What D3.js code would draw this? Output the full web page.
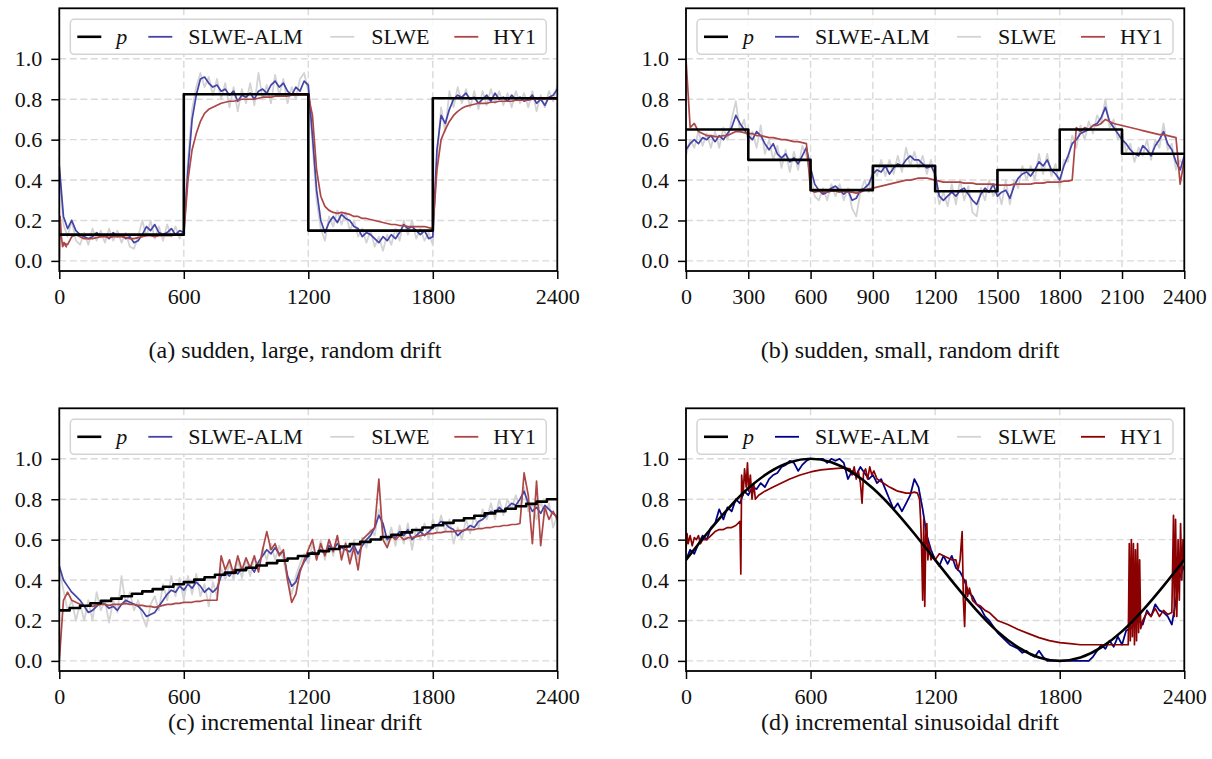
<!DOCTYPE html>
<html>
<head>
<meta charset="utf-8">
<script src="https://cdn.jsdelivr.net/npm/d3@7"></script>
<style>
  body { margin: 0; background: #fff; }
  svg { display: block; }
</style>
</head>
<body>
<svg id="fig" width="1212" height="759"></svg>
<script>
// Estimates sampled every STEP time steps (t = 0 .. 2400)
const STEP = 20;

// ---------- (a) sudden, large, random drift ----------
const pA_times  = [0, 600, 1200, 1800, 2400];
const pA_levels = [0.13, 0.825, 0.15, 0.805, 0.805];
const almA = [
  0.47,0.22,0.16,0.20,0.15,0.13,0.12,0.11,0.12,0.14,
  0.12,0.13,0.11,0.14,0.12,0.13,0.11,0.12,0.09,0.10,
  0.13,0.17,0.15,0.18,0.14,0.13,0.14,0.16,0.13,0.15,
  0.14,0.45,0.70,0.82,0.90,0.91,0.88,0.86,0.87,0.84,
  0.85,0.82,0.84,0.79,0.82,0.81,0.83,0.80,0.84,0.85,
  0.83,0.87,0.89,0.86,0.88,0.84,0.82,0.86,0.84,0.89,
  0.87,0.62,0.35,0.20,0.14,0.19,0.22,0.19,0.23,0.21,
  0.20,0.17,0.16,0.12,0.14,0.13,0.11,0.09,0.12,0.10,
  0.13,0.11,0.14,0.18,0.16,0.17,0.15,0.13,0.15,0.11,
  0.12,0.55,0.72,0.68,0.75,0.80,0.82,0.81,0.83,0.80,
  0.81,0.78,0.80,0.82,0.79,0.83,0.80,0.81,0.79,0.82,
  0.80,0.81,0.79,0.80,0.82,0.78,0.80,0.77,0.81,0.82,
  0.85];
const slweA = [
  0.45,0.18,0.12,0.20,0.10,0.08,0.14,0.08,0.16,0.10,
  0.15,0.09,0.16,0.10,0.15,0.09,0.14,0.07,0.06,0.12,
  0.20,0.12,0.20,0.11,0.17,0.10,0.18,0.12,0.17,0.11,
  0.16,0.50,0.75,0.86,0.93,0.86,0.91,0.82,0.90,0.80,
  0.88,0.76,0.86,0.74,0.85,0.78,0.88,0.77,0.93,0.80,
  0.87,0.78,0.92,0.82,0.90,0.78,0.86,0.80,0.90,0.93,
  0.84,0.58,0.30,0.16,0.10,0.22,0.17,0.25,0.18,0.24,
  0.15,0.20,0.12,0.16,0.09,0.15,0.07,0.12,0.05,0.13,
  0.08,0.16,0.10,0.20,0.13,0.20,0.11,0.16,0.10,0.14,
  0.08,0.50,0.76,0.64,0.84,0.76,0.86,0.78,0.85,0.76,
  0.84,0.75,0.84,0.77,0.85,0.78,0.84,0.77,0.83,0.76,
  0.84,0.78,0.83,0.76,0.84,0.74,0.82,0.76,0.84,0.79,
  0.87];
// HY1 in (a) starts with a short transient, then sampled every 20 steps
const hy1A_start = [[0,0.00],[4,0.22],[10,0.12],[16,0.07],[24,0.09],[34,0.07]];
const hy1A = [
  0.09,0.08,0.12,0.13,0.12,0.11,0.11,0.11,0.115,
  0.12,0.12,0.115,0.12,0.12,0.12,0.115,0.11,0.11,0.115,
  0.12,0.125,0.125,0.12,0.125,0.125,0.125,0.125,0.13,0.13,
  0.13,0.40,0.55,0.63,0.69,0.73,0.75,0.76,0.77,0.78,
  0.785,0.79,0.79,0.795,0.80,0.80,0.80,0.80,0.805,0.81,
  0.81,0.81,0.815,0.815,0.815,0.815,0.82,0.82,0.82,0.82,
  0.82,0.72,0.45,0.32,0.27,0.25,0.24,0.235,0.24,0.235,
  0.23,0.22,0.22,0.21,0.21,0.205,0.20,0.195,0.19,0.185,
  0.18,0.18,0.175,0.175,0.17,0.17,0.17,0.17,0.17,0.165,
  0.16,0.45,0.60,0.65,0.69,0.72,0.74,0.755,0.765,0.77,
  0.775,0.78,0.78,0.78,0.785,0.785,0.79,0.79,0.79,0.79,
  0.795,0.795,0.795,0.795,0.80,0.80,0.80,0.80,0.80,0.80,
  0.80];

// ---------- (b) sudden, small, random drift ----------
const pB_times  = [0, 300, 600, 900, 1200, 1500, 1800, 2100, 2400];
const pB_levels = [0.65, 0.50, 0.35, 0.47, 0.345, 0.45, 0.65, 0.53, 0.53];
const almB = [
  0.55,0.58,0.60,0.58,0.61,0.60,0.62,0.59,0.62,0.60,
  0.63,0.66,0.72,0.68,0.65,0.62,0.60,0.64,0.62,0.58,
  0.55,0.58,0.53,0.51,0.53,0.49,0.51,0.48,0.52,0.56,
  0.46,0.38,0.35,0.33,0.34,0.36,0.37,0.35,0.33,0.35,
  0.30,0.31,0.35,0.36,0.38,0.43,0.45,0.44,0.47,0.43,
  0.46,0.48,0.47,0.50,0.52,0.50,0.50,0.48,0.46,0.47,
  0.43,0.32,0.30,0.32,0.34,0.32,0.35,0.36,0.33,0.30,
  0.28,0.33,0.36,0.34,0.38,0.32,0.34,0.35,0.31,0.37,
  0.41,0.43,0.44,0.42,0.45,0.49,0.47,0.50,0.45,0.43,
  0.40,0.47,0.52,0.58,0.60,0.63,0.64,0.65,0.67,0.68,
  0.71,0.76,0.69,0.66,0.63,0.60,0.58,0.55,0.53,0.52,
  0.57,0.55,0.52,0.57,0.60,0.64,0.58,0.55,0.49,0.45,
  0.52];
const slweB = [
  0.52,0.60,0.56,0.64,0.57,0.63,0.56,0.64,0.56,0.66,
  0.60,0.70,0.79,0.64,0.70,0.58,0.64,0.56,0.67,0.53,
  0.60,0.50,0.57,0.46,0.55,0.44,0.54,0.45,0.57,0.52,
  0.42,0.32,0.30,0.36,0.30,0.38,0.32,0.38,0.30,0.36,
  0.26,0.22,0.34,0.40,0.34,0.47,0.42,0.50,0.42,0.50,
  0.43,0.52,0.44,0.56,0.47,0.54,0.46,0.52,0.43,0.50,
  0.40,0.28,0.34,0.27,0.38,0.28,0.40,0.30,0.37,0.24,
  0.22,0.36,0.30,0.40,0.32,0.36,0.28,0.40,0.28,0.40,
  0.36,0.47,0.40,0.47,0.40,0.53,0.43,0.53,0.42,0.48,
  0.36,0.50,0.49,0.62,0.56,0.67,0.60,0.69,0.63,0.72,
  0.68,0.80,0.66,0.70,0.60,0.64,0.54,0.58,0.49,0.56,
  0.52,0.60,0.50,0.60,0.56,0.68,0.55,0.58,0.45,0.50,
  0.46];
const hy1B = [
  1.00,0.66,0.68,0.64,0.63,0.62,0.62,0.615,0.615,0.62,
  0.62,0.63,0.64,0.64,0.635,0.63,0.63,0.62,0.62,0.615,
  0.61,0.61,0.605,0.60,0.60,0.595,0.59,0.59,0.585,0.58,
  0.35,0.34,0.345,0.34,0.34,0.345,0.345,0.34,0.345,0.34,
  0.34,0.335,0.34,0.35,0.355,0.36,0.365,0.37,0.375,0.38,
  0.385,0.39,0.395,0.40,0.40,0.405,0.41,0.41,0.41,0.405,
  0.40,0.395,0.39,0.39,0.39,0.39,0.39,0.385,0.385,0.385,
  0.38,0.38,0.38,0.38,0.38,0.375,0.375,0.375,0.375,0.38,
  0.38,0.38,0.38,0.38,0.385,0.385,0.385,0.39,0.39,0.39,
  0.39,0.395,0.395,0.40,0.66,0.64,0.66,0.65,0.67,0.67,
  0.68,0.70,0.69,0.68,0.675,0.67,0.665,0.66,0.655,0.65,
  0.645,0.64,0.635,0.63,0.625,0.625,0.62,0.615,0.61,0.38,
  0.50];

// ---------- (c) incremental linear drift ----------
const pC_stepLen = 50;
const pC_levels = [
  0.250,0.262,0.273,0.285,0.297,0.308,0.320,0.332,0.344,0.355,
  0.367,0.379,0.390,0.402,0.414,0.426,0.437,0.449,0.461,0.472,
  0.484,0.496,0.507,0.519,0.531,0.543,0.554,0.566,0.578,0.589,
  0.601,0.613,0.624,0.636,0.648,0.660,0.671,0.683,0.695,0.706,
  0.718,0.730,0.741,0.753,0.765,0.777,0.788,0.800];
const almC = [
  0.47,0.40,0.37,0.34,0.32,0.30,0.27,0.24,0.25,0.27,
  0.29,0.28,0.26,0.27,0.25,0.28,0.30,0.29,0.28,0.27,
  0.25,0.22,0.23,0.24,0.27,0.30,0.33,0.35,0.34,0.37,
  0.35,0.38,0.36,0.39,0.37,0.34,0.36,0.34,0.36,0.42,
  0.44,0.42,0.45,0.43,0.46,0.45,0.47,0.44,0.49,0.52,
  0.55,0.53,0.56,0.53,0.54,0.42,0.37,0.39,0.45,0.49,
  0.52,0.54,0.52,0.55,0.53,0.57,0.55,0.58,0.56,0.55,
  0.54,0.57,0.53,0.57,0.60,0.62,0.66,0.72,0.68,0.60,
  0.62,0.61,0.64,0.62,0.65,0.60,0.62,0.64,0.62,0.64,
  0.66,0.67,0.69,0.68,0.66,0.65,0.62,0.64,0.65,0.67,
  0.66,0.69,0.70,0.72,0.74,0.73,0.76,0.74,0.76,0.78,
  0.77,0.80,0.84,0.78,0.74,0.76,0.73,0.77,0.75,0.73,
  0.71];
const slweC = [
  0.45,0.35,0.25,0.30,0.20,0.28,0.20,0.30,0.20,0.34,
  0.25,0.30,0.19,0.30,0.24,0.42,0.28,0.34,0.25,0.30,
  0.22,0.17,0.28,0.32,0.25,0.38,0.30,0.42,0.32,0.41,
  0.30,0.42,0.33,0.43,0.32,0.38,0.27,0.39,0.32,0.46,
  0.40,0.48,0.40,0.50,0.41,0.50,0.42,0.51,0.45,0.56,
  0.50,0.58,0.50,0.57,0.50,0.40,0.33,0.42,0.48,0.53,
  0.48,0.58,0.50,0.60,0.50,0.60,0.52,0.62,0.52,0.59,
  0.50,0.60,0.50,0.61,0.56,0.65,0.62,0.75,0.64,0.58,
  0.66,0.57,0.67,0.58,0.68,0.55,0.66,0.60,0.68,0.60,
  0.70,0.64,0.72,0.64,0.70,0.58,0.66,0.60,0.70,0.63,
  0.72,0.66,0.75,0.70,0.78,0.70,0.80,0.72,0.80,0.75,
  0.82,0.76,0.86,0.74,0.78,0.70,0.79,0.72,0.78,0.66,
  0.72];
const hy1C = [
  0.00,0.30,0.34,0.30,0.29,0.28,0.27,0.275,0.27,0.275,
  0.28,0.28,0.275,0.28,0.28,0.28,0.285,0.28,0.28,0.275,
  0.275,0.27,0.27,0.265,0.27,0.275,0.28,0.28,0.285,0.285,
  0.29,0.29,0.29,0.295,0.295,0.30,0.30,0.30,0.30,0.52,
  0.45,0.50,0.43,0.52,0.45,0.51,0.46,0.52,0.44,0.55,
  0.64,0.55,0.58,0.52,0.55,0.40,0.29,0.33,0.44,0.50,
  0.55,0.60,0.50,0.58,0.52,0.60,0.54,0.62,0.50,0.58,
  0.48,0.56,0.45,0.60,0.62,0.64,0.66,0.90,0.60,0.56,
  0.62,0.60,0.62,0.60,0.61,0.61,0.615,0.62,0.625,0.63,
  0.63,0.635,0.635,0.64,0.64,0.64,0.645,0.645,0.65,0.65,
  0.65,0.655,0.655,0.66,0.66,0.665,0.665,0.67,0.67,0.675,
  0.675,0.68,0.93,0.82,0.58,0.89,0.57,0.76,0.70,0.74,
  0.70];

// ---------- (d) incremental sinusoidal drift ----------
const pD_stepLen = 100;
const pD = [0.5,0.629,0.75,0.854,0.933,0.983,1.0,0.983,0.933,0.854,0.75,0.629,
            0.5,0.371,0.25,0.146,0.067,0.017,0.0,0.017,0.067,0.146,0.25,0.371,0.5];
const almD = [
  0.50,0.55,0.53,0.58,0.62,0.60,0.66,0.68,0.75,0.70,
  0.76,0.74,0.80,0.78,0.84,0.82,0.86,0.85,0.88,0.86,
  0.90,0.92,0.93,0.96,0.97,0.99,0.98,0.94,0.97,0.99,
  1.00,1.00,1.00,1.00,0.98,1.00,0.99,1.00,0.98,0.90,
  0.94,0.92,0.96,0.93,0.90,0.92,0.88,0.90,0.85,0.80,
  0.75,0.78,0.74,0.78,0.82,0.90,0.86,0.75,0.62,0.55,
  0.50,0.47,0.52,0.48,0.52,0.46,0.44,0.40,0.34,0.32,
  0.28,0.26,0.22,0.20,0.17,0.14,0.12,0.10,0.08,0.07,
  0.06,0.04,0.05,0.03,0.02,0.05,0.02,0.00,0.00,0.00,
  0.00,0.00,0.00,0.00,0.00,0.00,0.00,0.00,0.02,0.05,
  0.08,0.06,0.10,0.07,0.12,0.08,0.15,0.16,0.18,0.20,
  0.18,0.25,0.22,0.28,0.25,0.24,0.22,0.18,0.30,0.42,
  0.47];
// HY1 in (d) is irregularly sampled: [t, value]
const hy1D = [
  [0,0.55],[5,0.63],[10,0.58],[20,0.62],[30,0.57],[40,0.61],[50,0.60],[60,0.62],[70,0.58],[80,0.60],
  [100,0.60],[120,0.62],[140,0.64],[160,0.65],[180,0.65],[200,0.66],[220,0.66],[240,0.67],[260,0.69],
  [264,0.43],[268,0.92],[275,0.82],[282,0.95],[290,0.86],[296,0.98],[302,0.84],[310,0.92],[318,0.80],
  [326,0.88],[334,0.80],[350,0.82],[380,0.84],[420,0.86],[460,0.88],[500,0.90],[550,0.92],[600,0.935],
  [650,0.945],[700,0.95],[760,0.955],[790,0.95],[800,0.92],[810,0.96],[820,0.90],[830,0.94],[840,0.88],
  [848,0.78],[855,0.93],[865,0.95],[875,0.90],[885,0.96],[895,0.92],[905,0.94],[920,0.90],[950,0.88],
  [980,0.86],[1000,0.85],[1020,0.84],[1040,0.835],[1060,0.83],[1080,0.83],[1100,0.835],[1115,0.83],
  [1125,0.80],[1130,0.70],[1135,0.55],[1140,0.30],[1145,0.70],[1150,0.27],[1155,0.62],[1160,0.68],
  [1165,0.50],[1170,0.58],[1180,0.50],[1190,0.52],[1200,0.50],[1220,0.53],[1240,0.52],[1260,0.51],
  [1280,0.50],[1300,0.50],[1310,0.45],[1320,0.50],[1330,0.64],[1336,0.30],[1342,0.17],[1348,0.40],
  [1356,0.32],[1365,0.36],[1380,0.30],[1400,0.28],[1420,0.27],[1440,0.25],[1460,0.24],[1480,0.22],
  [1500,0.20],[1550,0.18],[1600,0.155],[1650,0.135],[1700,0.115],[1750,0.10],[1800,0.09],[1850,0.085],
  [1900,0.08],[1950,0.08],[2000,0.08],[2050,0.08],[2100,0.08],[2130,0.08],[2135,0.58],[2140,0.10],
  [2145,0.60],[2150,0.12],[2155,0.58],[2160,0.08],[2165,0.55],[2170,0.10],[2175,0.58],[2180,0.14],
  [2185,0.50],[2190,0.16],[2200,0.20],[2220,0.24],[2240,0.22],[2260,0.26],[2280,0.22],[2300,0.25],
  [2320,0.23],[2340,0.24],[2348,0.72],[2352,0.22],[2358,0.70],[2364,0.22],[2370,0.60],[2376,0.30],
  [2382,0.68],[2388,0.40],[2394,0.60],[2400,0.50]];

const legendLabels = ["p", "SLWE-ALM", "SLWE", "HY1"];
const yTicks = [0.0, 0.2, 0.4, 0.6, 0.8, 1.0];
const xTicksWide = [0, 600, 1200, 1800, 2400];
const xTicksFine = [0, 300, 600, 900, 1200, 1500, 1800, 2100, 2400];

// ---------- helpers ----------
const uniform = (vals, step, t0 = 0) => vals.map((v, i) => [t0 + i * step, v]);
const stepped = (times, levels) => times.map((t, i) => [t, levels[i]]);
const steppedUniform = (levels, len) => {
  const pts = levels.map((v, i) => [i * len, v]);
  pts.push([2400, levels[levels.length - 1]]);
  return pts;
};

const FONT = '"Liberation Serif", "Times New Roman", Times, serif';
const svg = d3.select("#fig");

const lightColors = { p: "#000000", alm: "#4343a8", slwe: "#d3d3d3", hy1: "#ad4646" };
const darkColors  = { p: "#000000", alm: "#00008b", slwe: "#d3d3d3", hy1: "#8b0000" };

const panels = [
  { id: "a", x0: 59.3, x1: 557.3, y0: 8.3, y1: 271, xTicks: xTicksWide,
    caption: "(a) sudden, large, random drift", cx: 295, cy: 358, colors: lightColors,
    p: stepped(pA_times, pA_levels), pCurve: d3.curveStepAfter,
    alm: uniform(almA, STEP), slwe: uniform(slweA, STEP),
    hy1: hy1A_start.concat(uniform(hy1A, STEP, STEP)) },
  { id: "b", x0: 686, x1: 1184.3, y0: 8.3, y1: 271, xTicks: xTicksFine,
    caption: "(b) sudden, small, random drift", cx: 910, cy: 358, colors: lightColors,
    p: stepped(pB_times, pB_levels), pCurve: d3.curveStepAfter,
    alm: uniform(almB, STEP), slwe: uniform(slweB, STEP), hy1: uniform(hy1B, STEP) },
  { id: "c", x0: 59.3, x1: 557.3, y0: 408.3, y1: 671, xTicks: xTicksWide,
    caption: "(c) incremental linear drift", cx: 295, cy: 730, colors: lightColors,
    p: steppedUniform(pC_levels, pC_stepLen), pCurve: d3.curveStepAfter,
    alm: uniform(almC, STEP), slwe: uniform(slweC, STEP), hy1: uniform(hy1C, STEP) },
  { id: "d", x0: 686, x1: 1184.3, y0: 408.3, y1: 671, xTicks: xTicksWide,
    caption: "(d) incremental sinusoidal drift", cx: 910, cy: 730, colors: darkColors,
    p: uniform(pD, pD_stepLen), pCurve: d3.curveNatural,
    alm: uniform(almD, STEP), slwe: uniform(almD, STEP), hy1: hy1D }
];

const defs = svg.append("defs");

panels.forEach(cfg => {
  const g = svg.append("g").attr("class", "panel-" + cfg.id);
  const x = d3.scaleLinear().domain([0, 2400]).range([cfg.x0, cfg.x1]);
  const y = d3.scaleLinear().domain([-0.05, 1.25]).range([cfg.y1, cfg.y0]);

  defs.append("clipPath").attr("id", "clip-" + cfg.id)
    .append("rect")
    .attr("x", cfg.x0).attr("y", cfg.y0)
    .attr("width", cfg.x1 - cfg.x0).attr("height", cfg.y1 - cfg.y0);

  // dashed grid
  const grid = g.append("g").attr("stroke", "#dadada").attr("stroke-width", 1.4)
    .attr("stroke-dasharray", "7,3.5");
  grid.selectAll("line.gx").data(cfg.xTicks).join("line").attr("class", "gx")
    .attr("x1", d => x(d)).attr("x2", d => x(d)).attr("y1", cfg.y0).attr("y2", cfg.y1);
  grid.selectAll("line.gy").data(yTicks).join("line").attr("class", "gy")
    .attr("x1", cfg.x0).attr("x2", cfg.x1).attr("y1", d => y(d)).attr("y2", d => y(d));

  // series
  const plot = g.append("g").attr("clip-path", `url(#clip-${cfg.id})`)
    .attr("fill", "none").attr("stroke-linejoin", "round");
  const line = d3.line().x(d => x(d[0])).y(d => y(d[1]));
  plot.append("path").datum(cfg.slwe).attr("d", line)
    .attr("stroke", cfg.colors.slwe).attr("stroke-width", 1.8);
  plot.append("path").datum(cfg.alm).attr("d", line)
    .attr("stroke", cfg.colors.alm).attr("stroke-width", 1.7);
  plot.append("path").datum(cfg.hy1).attr("d", line)
    .attr("stroke", cfg.colors.hy1).attr("stroke-width", 1.7);
  plot.append("path").datum(cfg.p).attr("d", line.curve(cfg.pCurve))
    .attr("stroke", cfg.colors.p).attr("stroke-width", 2.6);

  // axes
  const xAxis = g.append("g").attr("transform", `translate(0,${cfg.y1})`)
    .call(d3.axisBottom(x).tickValues(cfg.xTicks).tickSize(8).tickPadding(9)
      .tickFormat(d3.format("d")));
  const yAxis = g.append("g").attr("transform", `translate(${cfg.x0},0)`)
    .call(d3.axisLeft(y).tickValues(yTicks).tickSize(8).tickPadding(9)
      .tickFormat(d3.format(".1f")));
  [xAxis, yAxis].forEach(ax => {
    ax.attr("font-family", FONT).attr("font-size", 22);
    ax.select(".domain").remove();
    ax.selectAll(".tick line").attr("stroke", "#000").attr("stroke-width", 1.5);
    ax.selectAll(".tick text").attr("fill", "#111");
  });

  // frame
  g.append("rect").attr("x", cfg.x0).attr("y", cfg.y0)
    .attr("width", cfg.x1 - cfg.x0).attr("height", cfg.y1 - cfg.y0)
    .attr("fill", "none").attr("stroke", "#000").attr("stroke-width", 1.8);

  // legend
  const lg = g.append("g").attr("transform", `translate(${cfg.x0 + 11},${cfg.y0 + 11})`);
  lg.append("rect").attr("width", 476).attr("height", 35).attr("rx", 4)
    .attr("fill", "#fff").attr("fill-opacity", 0.85)
    .attr("stroke", "#d4d4d4").attr("stroke-width", 1.5);
  const keys = ["p", "alm", "slwe", "hy1"];
  const handleX = [7, 78, 260, 384];
  const textX = [46, 118, 301, 423];
  keys.forEach((k, i) => {
    lg.append("line").attr("x1", handleX[i]).attr("x2", handleX[i] + 24)
      .attr("y1", 17.5).attr("y2", 17.5)
      .attr("stroke", cfg.colors[k]).attr("stroke-width", k === "p" ? 2.6 : 1.8);
    lg.append("text").attr("x", textX[i]).attr("y", 25)
      .attr("font-family", FONT).attr("font-size", 22)
      .attr("font-style", i === 0 ? "italic" : "normal")
      .attr("fill", "#111").text(legendLabels[i]);
  });

  // caption
  g.append("text").attr("x", cfg.cx).attr("y", cfg.cy).attr("text-anchor", "middle")
    .attr("font-family", FONT).attr("font-size", 24).attr("fill", "#111")
    .text(cfg.caption);
});
</script>
</body>
</html>
